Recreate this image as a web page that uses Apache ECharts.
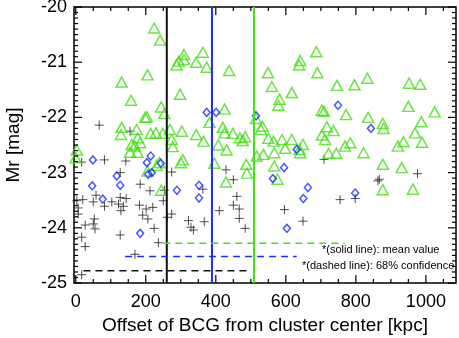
<!DOCTYPE html>
<html>
<head>
<meta charset="utf-8">
<script src="https://cdn.jsdelivr.net/npm/echarts@6/dist/echarts.min.js"></script>
<style>
  html, body { margin: 0; padding: 0; background: #fff; }
  #chart { width: 459px; height: 338px; }
</style>
</head>
<body>
<div id="chart"></div>
<script>
// [offset kpc, Mr mag]
const greenPoints = [
  [224,-20.38],[241,-20.60],[131,-21.36],[205,-21.23],[158,-21.69],[298,-21.58],[288,-21.05],[294,-20.98],
  [309,-20.86],[309,-20.95],[344,-21.00],[363,-20.82],[374,-21.09],[438,-21.15],[244,-21.81],[253,-21.93],
  [198,-22.00],[203,-21.99],[425,-21.85],[382,-22.09],[131,-22.18],[129,-22.31],[174,-22.22],[214,-22.29],
  [229,-22.28],[249,-22.29],[269,-22.22],[303,-22.25],[344,-22.31],[420,-22.18],[425,-22.28],[449,-22.29],
  [469,-22.37],[477,-22.42],[484,-22.35],[515,-22.02],[365,-22.43],
  [687,-20.81],[641,-20.97],[638,-21.05],[549,-21.19],[690,-21.19],[560,-21.44],[617,-21.55],[746,-21.42],
  [796,-21.41],[833,-21.29],[952,-21.38],[984,-21.40],[582,-21.67],[579,-21.78],[703,-21.87],[709,-21.89],
  [772,-21.95],[950,-21.80],[1025,-21.90],[835,-22.00],[877,-22.11],[879,-22.20],[987,-22.08],
  [529,-22.22],[533,-22.16],[717,-22.17],[736,-22.24],[703,-22.32],[712,-22.40],
  [550,-22.38],[565,-22.43],[589,-22.40],[617,-22.40],[649,-22.49],[769,-22.52],[784,-22.46],[822,-22.64],
  [920,-22.52],[936,-22.44],[969,-22.28],[989,-22.45],
  [517,-22.70],[536,-22.67],[567,-22.64],[598,-22.56],[639,-22.58],[641,-22.64],[722,-22.65],[744,-22.65],
  [567,-22.88],[576,-23.12],[877,-22.85],[931,-22.91],[877,-23.31],[963,-23.30],
  [160,-22.49],[184,-22.46],[177,-22.37],[169,-22.52],[155,-22.63],[176,-22.63],[3,-22.59],[0,-22.73],
  [274,-22.40],[277,-22.53],[205,-22.97],[231,-22.87],[239,-22.82],[306,-22.77],[300,-22.82],[244,-23.32],
  [396,-22.83],[407,-22.50],[431,-22.59],[429,-23.17],[487,-22.85],[489,-23.01]
];
const bluePoints = [
  [374,-21.91],[401,-21.91],[515,-21.97],[749,-21.78],[843,-22.20],[49,-22.77],[47,-23.24],[77,-23.48],
  [117,-23.06],[127,-23.23],[214,-22.70],[203,-22.82],[243,-22.83],[217,-23.00],[207,-23.03],[289,-23.32],
  [352,-23.23],[352,-23.46],[184,-24.10],[631,-22.58],[595,-22.91],[563,-23.11],[663,-23.27],[650,-23.47],
  [603,-24.01],[798,-23.37]
];
const blackPoints = [
  [67,-22.14],[155,-22.25],[17,-22.81],[82,-22.77],[143,-22.79],[127,-23.00],[184,-23.21],[212,-23.33],
  [3,-23.51],[20,-23.49],[50,-23.53],[58,-23.41],[82,-23.61],[103,-23.53],[127,-23.45],[122,-23.57],
  [144,-23.47],[136,-23.61],[129,-23.69],[182,-23.59],[201,-23.66],[220,-23.63],[191,-23.77],[206,-23.84],
  [250,-23.51],[262,-23.81],[274,-23.75],[253,-23.32],[274,-22.99],[224,-24.01],[236,-24.27],[127,-24.13],
  [169,-24.48],[53,-23.84],[50,-23.93],[55,-24.02],[27,-23.95],[17,-24.17],[27,-24.34],[7,-23.64],
  [7,-23.75],[17,-24.85],[322,-23.87],[329,-23.99],[336,-24.04],[367,-23.89],[410,-23.69],[429,-22.95],
  [450,-23.13],[460,-23.43],[450,-23.59],[467,-23.66],[467,-23.83],[484,-24.01],[363,-23.30],[709,-22.76],
  [867,-23.12],[863,-23.15],[976,-23.02],[755,-23.49],[798,-23.47],[596,-23.67],[649,-23.88]
];

// black, blue, green
const meanOffset = [260, 389, 509];
const ciLow = [22, 141, 250];
const ciHigh = [498, 631, 769];
const ciRow = [-24.78, -24.52, -24.28];

const xLabels = [0, 200, 400, 600, 800, 1000];
const xTicks = [0, 50, 100, 150, 200, 250, 300, 350, 400, 450, 500, 550, 600, 650, 700, 750, 800, 850, 900, 950, 1000, 1050];
const yTicks = [];
for (let k = -250; k <= -200; k++) yTicks.push(k / 10);

const colors = ['#111111', '#1a2cff', '#44e014'];
const font = "'Liberation Sans', Arial, sans-serif";
const xMin = -5, xMax = 1086, yMin = -25, yMax = -20;

const chart = echarts.init(document.getElementById('chart'));

// IDL-style inward ticks on all four sides, placed through the axis scales
const xTickSeries = {
  type: 'custom', coordinateSystem: 'cartesian2d', silent: true, z: 6, clip: false,
  data: xTicks.map(v => [v, yMin, v % 200 === 0 ? 8 : 4]),
  encode: { x: 0, y: 1 },
  renderItem: (params, api) => {
    const v = api.value(0), len = api.value(2);
    const b = api.coord([v, yMin]), t = api.coord([v, yMax]);
    const st = { stroke: '#000', lineWidth: 1.2 };
    return { type: 'group', children: [
      { type: 'line', shape: { x1: b[0], y1: b[1], x2: b[0], y2: b[1] - len }, style: st },
      { type: 'line', shape: { x1: t[0], y1: t[1], x2: t[0], y2: t[1] + len }, style: st }
    ] };
  }
};
const yTickSeries = {
  type: 'custom', coordinateSystem: 'cartesian2d', silent: true, z: 6, clip: false,
  data: yTicks.map(v => [xMin, v, Math.abs(v - Math.round(v)) < 1e-6 ? 8 : 4]),
  encode: { x: 0, y: 1 },
  renderItem: (params, api) => {
    const v = api.value(1), len = api.value(2);
    const l = api.coord([xMin, v]), r = api.coord([xMax, v]);
    const st = { stroke: '#000', lineWidth: 1.2 };
    return { type: 'group', children: [
      { type: 'line', shape: { x1: l[0], y1: l[1], x2: l[0] + len, y2: l[1] }, style: st },
      { type: 'line', shape: { x1: r[0], y1: r[1], x2: r[0] - len, y2: r[1] }, style: st }
    ] };
  }
};

const series = [
  {
    type: 'scatter', data: blackPoints, symbol: 'path://M5,0L5,10M0,5L10,5', symbolSize: 9,
    itemStyle: { color: 'transparent', borderColor: '#222', borderWidth: 1 }, z: 2
  },
  {
    type: 'scatter', data: greenPoints, symbol: 'triangle', symbolSize: [11, 10],
    itemStyle: { color: 'transparent', borderColor: colors[2], borderWidth: 1.5 }, z: 3
  },
  {
    type: 'scatter', data: bluePoints, symbol: 'diamond', symbolSize: [7, 8],
    itemStyle: { color: 'transparent', borderColor: colors[1], borderWidth: 1.5 }, z: 4
  },
  xTickSeries,
  yTickSeries
];
meanOffset.forEach((m, i) => {
  series.push({
    type: 'line', data: [[m, yMax], [m, yMin]], symbol: 'none', silent: true, z: 5,
    lineStyle: { color: colors[i], width: 2 }
  });
  series.push({
    type: 'line', data: [[ciLow[i], ciRow[i]], [ciHigh[i], ciRow[i]]], symbol: 'none', silent: true, z: 5,
    lineStyle: { color: colors[i], width: 1.5, type: [7, 5] }
  });
});

chart.setOption({
  animation: false,
  backgroundColor: '#fff',
  textStyle: { fontFamily: font },
  grid: {
    left: 74, top: 7, width: 382, height: 276, outerBoundsMode: 'none',
    show: true, borderColor: '#000', borderWidth: 1.5, backgroundColor: 'transparent'
  },
  xAxis: {
    type: 'value', min: xMin, max: xMax, position: 'bottom',
    axisLine: { show: false, onZero: false },
    axisTick: { show: false },
    splitLine: { show: false },
    axisLabel: { customValues: xLabels, formatter: v => String(v), color: '#000', fontSize: 18, fontFamily: font, margin: 10 },
    name: 'Offset of BCG from cluster center [kpc]', nameLocation: 'middle', nameGap: 31,
    nameTextStyle: { color: '#000', fontSize: 19, fontFamily: font }
  },
  yAxis: {
    type: 'value', min: yMin, max: yMax, interval: 1, position: 'left',
    axisLine: { show: false, onZero: false },
    axisTick: { show: false },
    splitLine: { show: false },
    axisLabel: { formatter: v => String(v), color: '#000', fontSize: 18, fontFamily: font, margin: 7 },
    name: 'Mr [mag]', nameLocation: 'middle', nameGap: 51,
    nameTextStyle: { color: '#000', fontSize: 19, fontFamily: font }
  },
  series: series,
  graphic: [
    { type: 'text', left: 322, top: 244, style: { text: '*(solid line): mean value', fill: '#000', font: '11px ' + font } },
    { type: 'text', left: 302, top: 260, style: { text: '*(dashed line): 68% confidence', fill: '#000', font: '11px ' + font } }
  ]
});
</script>
</body>
</html>
